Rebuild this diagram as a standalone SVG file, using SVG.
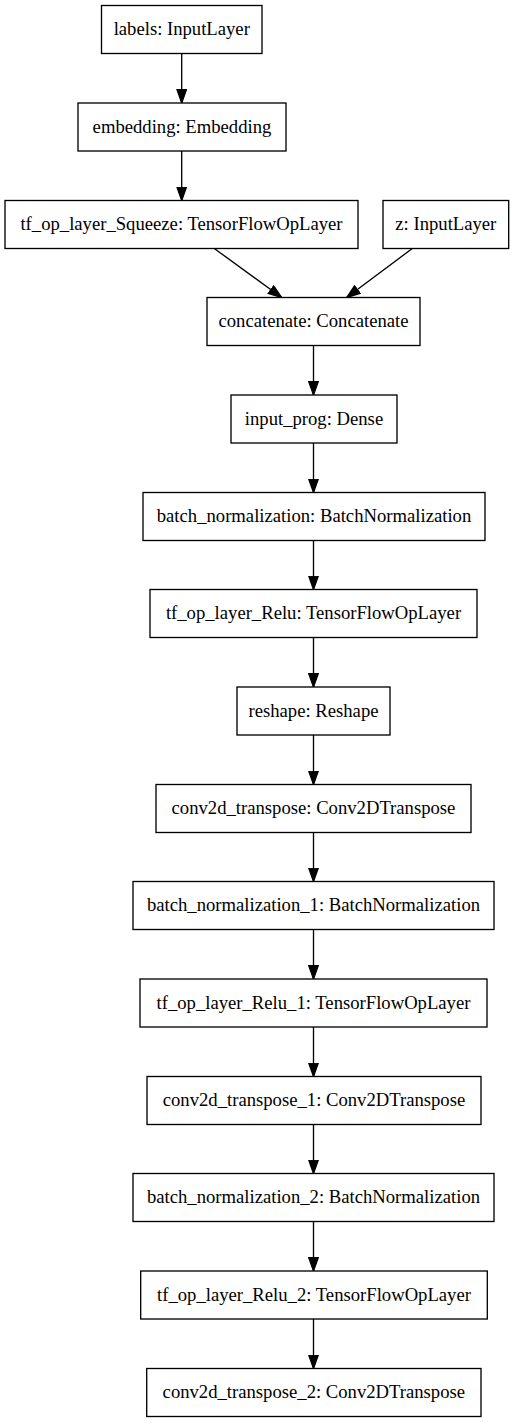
<svg xmlns="http://www.w3.org/2000/svg" width="514" height="1423" viewBox="0 0 514 1423">
<style>
.n rect{fill:#fff;stroke:#000;stroke-width:1.33}
.n text{font-family:"Liberation Serif","Times New Roman",serif;font-size:18.67px;fill:#000;text-anchor:middle}
.e path{fill:none;stroke:#000;stroke-width:1.33;marker-end:url(#ah)}
</style>
<defs>
<marker id="ah" markerUnits="userSpaceOnUse" markerWidth="15" markerHeight="11" refX="13.3" refY="4.7" orient="auto" viewBox="-0.7 -0.7 15 11">
<path d="M0,0 L13.3,4.7 L0,9.4 z" fill="#000" stroke="#000" stroke-width="1.33"/>
</marker>
</defs>
<rect width="514" height="1423" fill="#fff"/>
<g id="edges" class="e">
<path d="M181.7,53.5 V103"/>
<path d="M181.7,151 V200.5"/>
<path d="M214.3,248.5 L281.7,297.5"/>
<path d="M412.3,248.5 L346.7,297.5"/>
<path d="M313.5,345.5 V395"/>
<path d="M313.5,443 V492.5"/>
<path d="M313.5,540.5 V589.5"/>
<path d="M313.5,637.5 V687"/>
<path d="M313.5,735 V784.5"/>
<path d="M313.5,832.5 V881.5"/>
<path d="M313.5,929.5 V979"/>
<path d="M313.5,1027 V1076.5"/>
<path d="M313.5,1124.5 V1173.5"/>
<path d="M313.5,1221.5 V1271"/>
<path d="M313.5,1319 V1368.5"/>
</g>
<g id="labels" class="n"><rect x="101.5" y="5.5" width="160.5" height="48"/><text x="181.75" y="35.2">labels: InputLayer</text></g>
<g id="embedding" class="n"><rect x="78" y="103" width="208" height="48"/><text x="182" y="132.7">embedding: Embedding</text></g>
<g id="tf_op_layer_Squeeze" class="n"><rect x="5" y="200.5" width="353" height="48"/><text x="181.5" y="230.2">tf_op_layer_Squeeze: TensorFlowOpLayer</text></g>
<g id="z" class="n"><rect x="383" y="200.5" width="125.7" height="48"/><text x="445.85" y="230.2">z: InputLayer</text></g>
<g id="concatenate" class="n"><rect x="207" y="297.5" width="213" height="48"/><text x="313.5" y="327.2">concatenate: Concatenate</text></g>
<g id="input_prog" class="n"><rect x="231" y="395" width="166" height="48"/><text x="314" y="424.7">input_prog: Dense</text></g>
<g id="batch_normalization" class="n"><rect x="143" y="492.5" width="342" height="48"/><text x="314" y="522.2">batch_normalization: BatchNormalization</text></g>
<g id="tf_op_layer_Relu" class="n"><rect x="150" y="589.5" width="327" height="48"/><text x="313.5" y="619.2">tf_op_layer_Relu: TensorFlowOpLayer</text></g>
<g id="reshape" class="n"><rect x="237" y="687" width="153" height="48"/><text x="313.5" y="716.7">reshape: Reshape</text></g>
<g id="conv2d_transpose" class="n"><rect x="156" y="784.5" width="315" height="48"/><text x="313.5" y="814.2">conv2d_transpose: Conv2DTranspose</text></g>
<g id="batch_normalization_1" class="n"><rect x="133" y="881.5" width="361" height="48"/><text x="313.5" y="911.2">batch_normalization_1: BatchNormalization</text></g>
<g id="tf_op_layer_Relu_1" class="n"><rect x="140" y="979" width="347" height="48"/><text x="313.5" y="1008.7">tf_op_layer_Relu_1: TensorFlowOpLayer</text></g>
<g id="conv2d_transpose_1" class="n"><rect x="147" y="1076.5" width="334" height="48"/><text x="314" y="1106.2">conv2d_transpose_1: Conv2DTranspose</text></g>
<g id="batch_normalization_2" class="n"><rect x="133" y="1173.5" width="361" height="48"/><text x="313.5" y="1203.2">batch_normalization_2: BatchNormalization</text></g>
<g id="tf_op_layer_Relu_2" class="n"><rect x="140.7" y="1271" width="346.6" height="48"/><text x="314" y="1300.7">tf_op_layer_Relu_2: TensorFlowOpLayer</text></g>
<g id="conv2d_transpose_2" class="n"><rect x="146.7" y="1368.5" width="334.3" height="48"/><text x="313.85" y="1398.2">conv2d_transpose_2: Conv2DTranspose</text></g>
</svg>
